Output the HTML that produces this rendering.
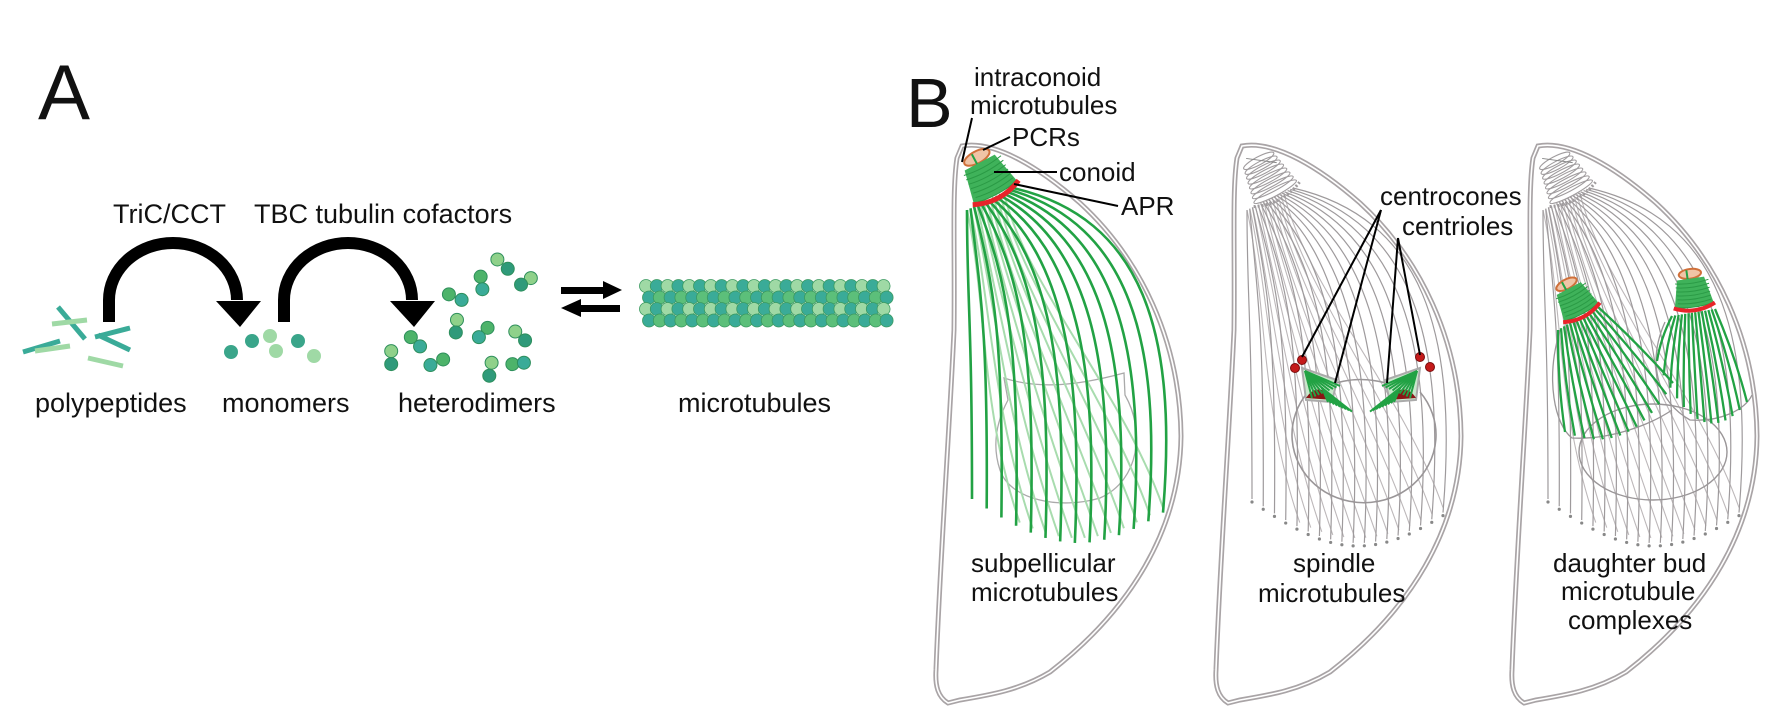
<!DOCTYPE html>
<html><head><meta charset="utf-8"><style>
html,body{margin:0;padding:0;background:#fff}
svg{display:block}
text{font-family:"Liberation Sans",Arial,sans-serif;fill:#111}
</style></head><body>
<svg id="s" width="1789" height="725" viewBox="0 0 1789 725" xmlns="http://www.w3.org/2000/svg">
<text x="38" y="119" font-size="78">A</text>
<text x="906" y="127" font-size="70">B</text>
<text x="113" y="223" font-size="27">TriC/CCT</text>
<text x="254" y="223" font-size="27">TBC tubulin cofactors</text>
<g fill="none" stroke="#000" stroke-width="12">
<path d="M109,322 L109,300 A64,57 0 0 1 237,300"/>
<path d="M284,322 L284,300 A64,57 0 0 1 412,300"/>
</g>
<polygon points="216,301 261,301 240,327" fill="#000"/>
<polygon points="390,301 435,301 414,327" fill="#000"/>
<g stroke-width="5">
<line x1="58" y1="307" x2="85" y2="339" stroke="#3aab98"/>
<line x1="23" y1="352" x2="60" y2="341" stroke="#3aab98"/>
<line x1="35" y1="351" x2="70" y2="346" stroke="#9fd9a5"/>
<line x1="52" y1="324" x2="87" y2="320" stroke="#9fd9a5"/>
<line x1="95" y1="337" x2="130" y2="328" stroke="#3aab98"/>
<line x1="98" y1="335" x2="130" y2="350" stroke="#3aab98"/>
<line x1="88" y1="358" x2="123" y2="366" stroke="#9fd9a5"/>
</g>
<g id="mono"></g>
<g id="het"></g>
<g fill="#000">
<rect x="561" y="287" width="44" height="7"/><polygon points="603,281 622,290 603,299"/>
<rect x="579" y="305" width="41" height="7"/><polygon points="581,299 561,308 581,317"/>
</g>
<g id="mt"></g>
<g font-size="27">
<text x="35" y="412">polypeptides</text>
<text x="222" y="412">monomers</text>
<text x="398" y="412">heterodimers</text>
<text x="678" y="412">microtubules</text>
</g>
<g id="cells"></g>
<g id="extra"></g>
<g font-size="26">
<text x="974" y="86">intraconoid</text>
<text x="970" y="114">microtubules</text>
<text x="1012" y="146">PCRs</text>
<text x="1059" y="181">conoid</text>
<text x="1121" y="215">APR</text>
<text x="1380" y="205">centrocones</text>
<text x="1402" y="235">centrioles</text>
<text x="971" y="572">subpellicular</text>
<text x="971" y="601">microtubules</text>
<text x="1293" y="572">spindle</text>
<text x="1258" y="602">microtubules</text>
<text x="1553" y="572">daughter bud</text>
<text x="1561" y="600">microtubule</text>
<text x="1568" y="629">complexes</text>
</g>
<g stroke="#000" stroke-width="2" fill="none">
<line x1="972" y1="118" x2="962" y2="162"/>
<line x1="1010" y1="137" x2="983" y2="150"/>
<line x1="1057" y1="172" x2="994" y2="172"/>
<line x1="1118" y1="206" x2="1014" y2="184"/>
<line x1="1381" y1="210" x2="1302" y2="357"/>
<line x1="1381" y1="210" x2="1335" y2="383"/>
<line x1="1398" y1="238" x2="1387" y2="383"/>
<line x1="1398" y1="238" x2="1420" y2="355"/>
</g>
</svg>
<script>
const NS="http://www.w3.org/2000/svg";
function el(p,t,a){const e=document.createElementNS(NS,t);for(const k in a)e.setAttribute(k,a[k]);p.appendChild(e);return e;}
const mono=document.getElementById('mono');
[[231,352,'#3aa58a'],[252,341,'#3aa58a'],[270,336,'#9fd9a5'],[276,351,'#9fd9a5'],[298,341,'#3aa58a'],[314,356,'#9fd9a5']].forEach(c=>el(mono,'circle',{cx:c[0],cy:c[1],r:7,fill:c[2]}));
const het=document.getElementById('het');
const hp=[[862,558],[880,578],[833,595],[836,622],[920,598],[903,612],[778,633],[800,645],[792,688],[790,715],[845,705],[830,725],[893,713],[910,732],[712,725],[728,745],[678,755],[678,783],[768,773],[746,785],[852,780],[848,808],[888,783],[908,780]];
const hc=['#8fd18a','#2f9a7a','#4db36a','#3aab98'];
hp.forEach((p,i)=>el(het,'circle',{cx:p[0]*0.577,cy:p[1]*0.465,r:6.5,fill:hc[i%4],stroke:'#2e8f5c','stroke-width':1}));
const mt=document.getElementById('mt');
for(let r=0;r<4;r++)for(let c=0;c<23;c++){
 const x=646+c*10.8+(r%2)*3,y=286+r*11.5;
 const col=(c%2==0)?(r%2?'#3aab98':'#9fd9a5'):(r%2?'#5cbf7a':'#3aab98');
 el(mt,'circle',{cx:x,cy:y,r:6.5,fill:col,stroke:'#3b9a60','stroke-width':0.8});
}
const cells=document.getElementById('cells');
const extra=document.getElementById('extra');
const outline="M962,146 C995,140 1040,168 1080,203 C1140,258 1180,340 1181,436 C1180,530 1130,610 1050,672 C1020,690 990,695 960,700 L948,703 C938,697 935,686 936,670 C940,560 950,420 954,330 C955,250 952,190 957,158 Z";
function S(t){return [967+46*t,210-22*t];}
function E(t){return [972+191*t,499+44*Math.sin(Math.PI*t*0.9)];}
function front(g,n,col,w,dots){
 for(let i=0;i<n;i++){const t=i/(n-1);const s=S(t),e=E(t);
  el(g,'path',{d:`M${s[0]},${s[1]} C${s[0]+130*t},${s[1]+30+60*(1-t)} ${e[0]+15*t},${e[1]-180} ${e[0]},${e[1]}`,fill:'none',stroke:col,'stroke-width':w});
  if(dots)el(g,'circle',{cx:e[0],cy:e[1]+3,r:1.6,fill:'#888'});}
}
function back(g,n,col,w){
 for(let i=0;i<n;i++){const t=i/(n-1);const s=S(t*0.8),e=E(Math.min(1,t*0.75+0.25));
  el(g,'path',{d:`M${s[0]},${s[1]} C${s[0]+20},${s[1]+90} ${e[0]-40},${e[1]-120} ${e[0]},${e[1]-5}`,fill:'none',stroke:col,'stroke-width':w});}
}
function cell(dx,kind){
 const g=el(cells,'g',{transform:'translate('+dx+',0)'});
 el(g,'path',{d:outline,fill:'none',stroke:'#a9a4a6','stroke-width':5});
 el(g,'path',{d:outline,fill:'none',stroke:'#fff','stroke-width':1.6});
 if(kind===1){
  el(g,'path',{d:"M1004,378 C1040,390 1080,385 1124,373 L1125,395 C1145,430 1140,480 1100,498 C1060,510 1010,500 1000,470 C990,440 1000,415 1008,400 Z",fill:'none',stroke:'#aaa','stroke-width':1.3});
  back(g,12,'#a8dcae',2);
  front(g,14,'#22a244',2.6,false);
  conoid(g,990,182,1,-28);
 } else {
  back(g,14,'#bdb8ba',1.1);
  front(g,18,'#9e9a9c',1.2,true);
  grayConoid(g);
 }
}
function conoid(g,cx,cy,s,rot){
 const c=el(g,'g',{transform:`rotate(${rot} ${cx} ${cy})`});
 el(c,'ellipse',{cx:cx,cy:cy-28*s,rx:14*s,ry:6*s,fill:'#f0c4a6',stroke:'#d0703a','stroke-width':2});
 el(c,'line',{x1:cx-3,y1:cy-33*s,x2:cx-3,y2:cy-20*s,stroke:'#22a244','stroke-width':2});
 el(c,'path',{d:`M${cx-17*s},${cy-22*s} L${cx+17*s},${cy-22*s} L${cx+25*s},${cy+14*s} L${cx-25*s},${cy+14*s} Z`,fill:'#3fb25a'});
 for(let k=0;k<7;k++){const y=cy-18*s+k*5*s;el(c,'path',{d:`M${cx-20*s},${y} Q${cx},${y+4*s} ${cx+22*s},${y}`,fill:'none',stroke:'#2a9a45','stroke-width':1});}
 el(c,'path',{d:`M${cx-26*s},${cy+12*s} Q${cx},${cy+24*s} ${cx+26*s},${cy+12*s}`,fill:'none',stroke:'#e8242a','stroke-width':5*s});
}
function grayConoid(g){
 const c=el(g,'g',{transform:'rotate(-28 990 182)'});
 for(let k=0;k<8;k++){const y=158+k*5;el(c,'ellipse',{cx:990,cy:y,rx:17+k,ry:4,fill:'none',stroke:'#a09c9e','stroke-width':1.1});}
 el(c,'path',{d:"M964,196 Q990,208 1016,196",fill:'none',stroke:'#a09c9e','stroke-width':3,'stroke-dasharray':'2 2'});
 el(c,'line',{x1:980,y1:150,x2:1005,y2:168,stroke:'#888','stroke-width':1});
}
function qb(a,c,b,t){return [(1-t)*(1-t)*a[0]+2*(1-t)*t*c[0]+t*t*b[0],(1-t)*(1-t)*a[1]+2*(1-t)*t*c[1]+t*t*b[1]];}
function bud(r0,r1,e0,ec,e1,ccx,ccy,rot){
 for(let i=0;i<14;i++){const t=i/13;const s=[r0[0]+(r1[0]-r0[0])*t,r0[1]+(r1[1]-r0[1])*t+3];const e=qb(e0,ec,e1,t);
  el(extra,'path',{d:`M${s[0]},${s[1]} Q${(s[0]+e[0])/2+8*(t-0.5)},${(s[1]+e[1])/2} ${e[0]},${e[1]}`,fill:'none',stroke:'#22a244','stroke-width':2.3});}
 conoid(extra,ccx,ccy,0.8,rot);
}
function spindle(m){
 // m = 1 left, -1 right (mirror around 1361)
 const X=x=>m===1?x:2722-x;
 el(extra,'polygon',{points:[[1302,368],[1337,380],[1332,402],[1306,400]].map(p=>X(p[0])+','+p[1]).join(' '),fill:'#c9e8cc',stroke:'#aaa','stroke-width':2});
 el(extra,'path',{d:`M${X(1306)},${398} Q${X(1318)},${380} ${X(1334)},${400} Z`,fill:'#8a1515'});
 for(let i=0;i<9;i++){
  el(extra,'line',{x1:X(1305),y1:371,x2:X(1312+i*3.5),y2:398-i*1.5,stroke:'#22a244','stroke-width':2});
  el(extra,'line',{x1:X(1322),y1:388,x2:X(1328+i*3),y2:402+i*1.2,stroke:'#22a244','stroke-width':2});
 }
}
cell(0,1);cell(280,2);cell(576,3);
// cell 2 extras
el(extra,'path',{d:"M1308,392 A72,68 0 1 0 1420,392",fill:'none',stroke:'#9a9698','stroke-width':1.6});
el(extra,'path',{d:"M1336,383 Q1360,376 1386,383",fill:'none',stroke:'#9a9698','stroke-width':1.6});
spindle(1);spindle(-1);
[[1302,360],[1295,368],[1420,357],[1430,367]].forEach(p=>el(extra,'circle',{cx:p[0],cy:p[1],r:4.5,fill:'#c41a1a',stroke:'#7a0d0d','stroke-width':1}));
// cell 3 extras
el(extra,'ellipse',{cx:1653,cy:452,rx:74,ry:48,fill:'none',stroke:'#9a9698','stroke-width':1.4});
el(extra,'path',{d:"M1560,330 C1545,380 1555,425 1572,438 C1610,440 1650,425 1672,410",fill:'none',stroke:'#9a9698','stroke-width':1.3});
el(extra,'path',{d:"M1665,322 C1648,360 1655,400 1690,420 C1720,422 1745,410 1752,395",fill:'none',stroke:'#9a9698','stroke-width':1.3});
bud([1558,327],[1597,303],[1565,432],[1630,460],[1673,383],1577,304,-28);
bud([1672,313],[1715,306],[1657,361],[1700,460],[1747,402],1693,296,-8);
</script>
</body></html>
